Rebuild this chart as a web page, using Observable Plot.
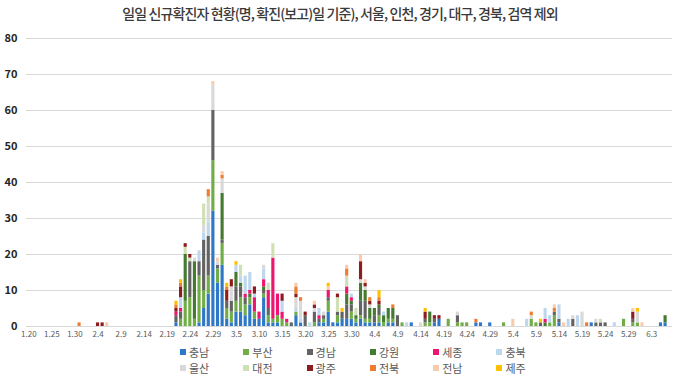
<!DOCTYPE html>
<html><head><meta charset="utf-8">
<script src="https://cdn.jsdelivr.net/npm/d3@7"></script>
<script src="https://cdn.jsdelivr.net/npm/@observablehq/plot@0.6"></script>
<style>
body{margin:0;background:#fff;font-family:"Noto Sans CJK KR","Noto Sans",sans-serif;}
#wrap{position:relative;width:680px;height:377px;overflow:hidden;background:#fff}
#title{position:absolute;top:4px;left:0;width:680px;text-align:center;font-size:14px;letter-spacing:-0.9px;font-weight:500;color:#3a3a3a;white-space:nowrap;line-height:18px}
#chart{position:absolute;top:28px;left:0}
#legend{position:absolute;top:344px;left:180px;display:grid;grid-template-columns:repeat(6,63.3px);font-size:11px;line-height:16px;color:#595959}
.item{display:flex;align-items:center;height:16px;white-space:nowrap}
.sw{width:6px;height:6px;margin-right:3px;flex:none}
</style></head>
<body>
<div id="wrap">
  <div id="title">일일 신규확진자 현황(명, 확진(보고)일 기준), 서울, 인천, 경기, 대구, 경북, 검역 제외</div>
  <div id="chart"></div>
  <div id="legend"></div>
</div>
<script>
// Regions (legend / stack order, bottom to top) and their colours
const regions = ["충남","부산","경남","강원","세종","충북","울산","대전","광주","전북","전남","제주"];
const colors  = ["#2E78C7","#70AD47","#636363","#457A31","#EE1470","#BDD7EE","#D9D9D9","#CFE0B4","#8E1B1F","#ED7D31","#F8CBAD","#FFC000"];

// Days with reported cases (M.D, 2020)
const days = [
  "1.31","2.4","2.5","2.6","2.21","2.22","2.23","2.24","2.25","2.26",
  "2.27","2.28","2.29","3.1","3.2","3.3","3.4","3.5","3.6","3.7",
  "3.8","3.9","3.10","3.11","3.12","3.13","3.14","3.15","3.16","3.17",
  "3.18","3.19","3.20","3.21","3.22","3.23","3.24","3.25","3.26","3.27",
  "3.28","3.29","3.30","3.31","4.1","4.2","4.3","4.4","4.5","4.6",
  "4.7","4.8","4.9","4.10","4.11","4.12","4.14","4.15","4.16","4.17",
  "4.18","4.20","4.22","4.23","4.24","4.26","4.27","4.29","5.2","5.4",
  "5.7","5.8","5.9","5.10","5.11","5.12","5.13","5.14","5.15","5.16",
  "5.17","5.18","5.19","5.20","5.21","5.22","5.23","5.24","5.26","5.28",
  "5.30","5.31","6.1","6.5","6.6"
];

// Daily new cases per region, aligned with `days`
const chungnam = [0,0,0,0,1,0,0,0,0,1, 5,9,32,12,17,2,1,4,4,3, 6,2,2,8,1,1,1,0,0,0, 3,1,0,0,0,1,1,4,1,1, 2,2,2,1,2,1,1,1,1,0, 1,1,0,0,0,1,0,0,0,1, 2,0,0,0,0,1,1,1,0,0, 0,0,0,0,0,0,0,1,0,0, 0,0,0,0,1,0,0,0,0,0, 0,0,0,1,1];
const busan    = [0,0,0,0,0,2,7,8,2,13, 5,5,14,4,6,3,3,3,4,3, 2,2,0,1,2,1,2,2,1,0, 1,0,0,0,1,0,1,3,0,2, 0,0,2,1,1,1,1,0,2,1, 1,1,0,1,0,0,0,1,1,0, 0,2,1,1,1,0,0,0,1,0, 0,2,1,0,0,1,3,0,0,0, 0,0,0,0,0,0,0,0,0,2, 1,1,0,0,0];
const gyeongnam= [0,0,0,0,2,2,0,10,0,4, 14,11,14,1,1,2,3,4,3,2, 0,0,0,1,2,0,0,0,0,1, 0,0,3,0,3,1,1,1,0,1, 2,4,2,0,4,5,0,2,2,0, 0,0,3,0,0,0,0,1,0,1, 0,0,2,0,0,0,0,0,0,0, 0,0,0,1,0,0,1,1,0,0, 2,0,0,0,0,1,1,1,0,0, 1,0,0,0,0];
const gangwon  = [0,0,0,0,0,0,13,0,16,0, 0,0,0,0,13,0,0,4,1,0, 1,0,0,1,0,0,0,0,0,0, 0,0,0,0,0,0,0,0,0,0, 0,3,1,1,5,3,3,2,1,2, 3,3,0,0,0,0,0,0,3,0, 0,0,0,0,0,0,0,0,0,0, 0,0,0,0,1,0,0,0,0,0, 0,0,0,0,0,0,0,0,0,0, 0,0,0,0,2];
const sejong   = [0,0,0,0,1,1,0,0,0,0, 0,0,0,0,0,0,0,0,0,1, 1,4,2,2,5,17,6,2,1,0, 0,0,0,0,0,1,0,2,0,0, 0,2,1,0,0,0,0,0,0,0, 0,0,0,0,0,0,0,0,0,0, 0,0,0,0,0,0,0,0,0,0, 0,0,0,0,1,0,0,0,0,0, 0,0,0,0,0,0,0,0,0,0, 0,0,0,0,0];
const chungbuk = [0,0,0,0,0,3,0,0,0,3, 2,4,0,0,0,0,0,2,2,5, 5,1,0,3,0,0,0,3,0,0, 1,1,0,1,0,2,0,0,0,0, 0,0,1,0,0,0,0,0,0,1, 0,0,0,0,1,0,0,0,0,0, 0,0,0,0,0,0,0,0,0,0, 2,0,0,0,3,2,0,4,0,2, 0,3,0,0,0,0,0,0,1,0, 0,0,0,0,0];
const ulsan    = [0,0,0,0,0,0,0,0,1,0, 2,5,7,1,4,0,4,0,0,0, 0,0,0,1,0,0,0,0,0,0, 3,5,0,0,1,0,1,0,0,0, 0,0,0,0,1,1,1,0,0,0, 0,0,0,0,0,0,1,0,0,0, 0,0,1,0,0,0,0,0,0,0, 0,1,0,0,0,0,0,0,0,0, 1,0,4,0,0,1,0,0,0,0, 0,3,0,0,0];
const daejeon  = [0,0,0,0,0,0,2,1,0,0, 6,2,0,0,0,0,0,0,3,0, 0,0,0,0,2,4,0,0,0,0, 0,0,0,0,0,0,0,0,0,4, 0,3,0,2,0,0,0,0,0,0, 0,0,0,0,0,0,0,0,0,0, 0,0,0,0,0,0,0,0,0,0, 0,0,0,0,0,0,0,0,0,0, 0,0,0,0,0,0,1,0,0,0, 0,0,0,0,0];
const gwangju  = [0,1,1,0,1,3,1,1,0,0, 0,0,0,0,0,3,2,0,0,0, 0,2,0,0,0,0,0,2,0,0, 1,0,1,0,1,0,0,0,0,1, 0,0,0,0,5,1,1,0,1,0, 0,0,0,0,0,0,0,2,0,1, 1,0,0,0,0,0,0,0,0,0, 0,0,0,0,0,0,0,0,0,0, 0,0,0,0,0,0,0,0,0,0, 2,0,0,0,0];
const jeonbuk  = [1,0,0,0,1,1,0,0,0,0, 0,2,0,0,1,1,0,0,0,0, 0,0,0,0,0,0,0,0,0,0, 2,1,0,0,0,0,0,0,0,0, 0,2,0,0,0,0,1,0,1,0, 0,1,0,0,0,0,0,0,0,0, 0,0,0,0,0,1,0,0,0,0, 0,1,0,0,0,0,1,0,0,0, 0,0,0,1,0,0,0,0,0,0, 0,0,0,0,0];
const jeonnam  = [0,0,0,1,0,0,0,0,0,0, 0,0,1,1,1,0,0,0,0,0, 0,0,0,0,0,0,0,0,0,0, 1,0,0,0,1,0,0,1,0,0, 0,1,0,0,2,1,0,0,0,0, 0,0,0,0,0,0,0,0,0,0, 0,0,0,0,0,0,0,0,0,2, 0,0,0,0,0,0,1,0,1,0, 0,0,0,0,0,0,0,0,0,0, 1,0,1,0,0];
const jeju     = [0,0,0,0,1,1,0,0,0,0, 0,0,0,0,0,1,0,1,0,0, 0,0,0,0,0,0,0,0,0,0, 0,0,0,0,0,0,0,1,0,0, 1,0,0,0,0,0,0,0,2,0, 0,0,0,0,0,0,0,1,0,0, 0,0,0,0,0,0,0,0,0,0, 0,0,0,1,0,0,0,0,0,0, 0,0,0,0,0,0,0,0,0,0, 0,1,0,0,0];

// Axis tick labels
const xTickLabels = ["1.20","1.25","1.30","2.4","2.9","2.14","2.19","2.24","2.29","3.5","3.10","3.15","3.20","3.25","3.30","4.4","4.9","4.14","4.19","4.24","4.29","5.4","5.9","5.14","5.19","5.24","5.29","6.3"];
const yTicks = [0,10,20,30,40,50,60,70,80];

// Category axis: every calendar day shown on the chart
const fmt = d => `${d.getUTCMonth()+1}.${d.getUTCDate()}`;
const allDays = d3.utcDay.range(new Date(Date.UTC(2020,0,20)), new Date(Date.UTC(2020,5,8))).map(fmt);

const series = [chungnam,busan,gyeongnam,gangwon,sejong,chungbuk,ulsan,daejeon,gwangju,jeonbuk,jeonnam,jeju];
series.forEach((s,i)=>{ if (s.length !== days.length) throw new Error(regions[i]+" length "+s.length); });
const data = [];
regions.forEach((r,i)=> series[i].forEach((v,j)=>{ if (v>0) data.push({day: days[j], region: r, value: v}); }));

const font = '"Noto Sans CJK KR","Noto Sans",sans-serif';
const chart = Plot.plot({
  width: 680, height: 316,
  marginTop: 10, marginBottom: 18, marginLeft: 26, marginRight: 8,
  style: {fontFamily: font, fontSize: "8px", color: "#595959", background: "#fff"},
  x: {type: "band", domain: allDays, paddingInner: 0.32, paddingOuter: 0.16, label: null},
  y: {domain: [0, 80], label: null},
  color: {domain: regions, range: colors},
  marks: [
    Plot.gridY(yTicks, {stroke: "#d9d9d9", strokeOpacity: 1}),
    Plot.axisY(yTicks, {tickSize: 0, tickPadding: 9, fontSize: 11, fontWeight: "bold", fill: "#262626", label: null}),
    Plot.axisX(xTickLabels, {tickSize: 0, tickPadding: 5, fontSize: 8, fill: "#595959", label: null}),
    Plot.ruleY([0], {stroke: "#d9d9d9"}),
    Plot.barY(data, {x: "day", y: "value", fill: "region"})
  ]
});
document.getElementById("chart").appendChild(chart);

const legend = document.getElementById("legend");
regions.forEach((r,i)=>{
  const it = document.createElement("div"); it.className = "item";
  const sw = document.createElement("span"); sw.className = "sw"; sw.style.background = colors[i];
  const tx = document.createElement("span"); tx.textContent = r;
  it.appendChild(sw); it.appendChild(tx); legend.appendChild(it);
});
</script>
</body></html>
